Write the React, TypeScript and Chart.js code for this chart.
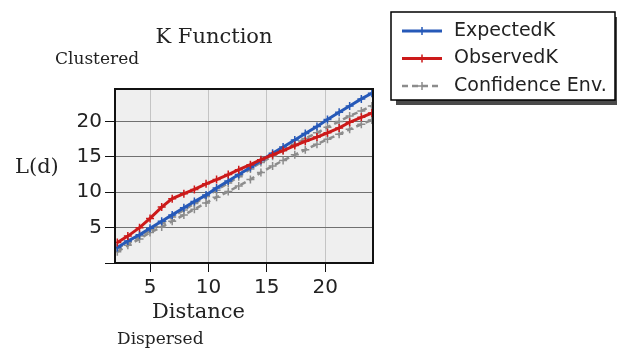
import React, { useEffect, useRef } from 'react';
import { Chart, registerables } from 'chart.js';

Chart.register(...registerables);

// ---- data ----
const DISTANCES = [2.2, 3.1, 4.1, 5.0, 6.0, 6.9, 7.9, 8.8, 9.8, 10.7, 11.7, 12.6, 13.6, 14.5, 15.5, 16.4, 17.4, 18.3, 19.3, 20.2, 21.2, 22.1, 23.1, 24.0];
const EXPECTED_K = [2.2, 3.1, 4.0, 4.9, 5.9, 6.8, 7.8, 8.7, 9.6, 10.6, 11.6, 12.5, 13.5, 14.5, 15.5, 16.4, 17.4, 18.3, 19.3, 20.3, 21.3, 22.2, 23.2, 24.0];
const OBSERVED_K = [2.9, 3.8, 5.0, 6.3, 7.9, 9.1, 9.8, 10.4, 11.2, 11.8, 12.5, 13.2, 13.9, 14.6, 15.3, 15.9, 16.6, 17.2, 17.8, 18.4, 19.1, 19.9, 20.6, 21.2];
const CONF_UPPER = [2.1, 2.9, 3.8, 4.7, 5.6, 6.5, 7.5, 8.4, 9.4, 10.3, 11.3, 12.2, 13.3, 14.2, 15.1, 15.9, 16.8, 17.6, 18.4, 19.2, 20.0, 20.8, 21.5, 22.2];
const CONF_LOWER = [1.6, 2.5, 3.4, 4.3, 5.1, 5.9, 6.8, 7.6, 8.5, 9.3, 10.1, 10.9, 11.8, 12.8, 13.7, 14.5, 15.3, 16.0, 16.8, 17.5, 18.2, 18.9, 19.6, 20.2];
const X_TICKS = [5, 10, 15, 20];
const Y_TICKS = [0, 5, 10, 15, 20];
const SERIES_LABELS = ['ExpectedK', 'ObservedK', 'Confidence Env.'];
const TITLE_TEXT = 'K Function';
const X_LABEL = 'Distance';
const Y_LABEL = 'L(d)';
const TOP_NOTE = 'Clustered';
const BOTTOM_NOTE = 'Dispersed';

const BLUE = '#2659b8';
const RED = '#cc1a1a';
const GRAY = '#8c8c8c';

const pts = (ys: number[]) => DISTANCES.map((d, i) => ({ x: d, y: ys[i] }));

const SERIF = '"DejaVu Serif", serif';
const SANS = '"DejaVu Sans", sans-serif';

const decorPlugin = {
  id: 'decor',
  beforeDraw(chart: any) {
    const { ctx, chartArea: a } = chart;
    ctx.save();
    ctx.fillStyle = '#ffffff';
    ctx.fillRect(0, 0, chart.width, chart.height);
    ctx.fillStyle = '#efefef';
    ctx.fillRect(a.left, a.top, a.right - a.left, a.bottom - a.top);
    ctx.restore();
  },
  afterDraw(chart: any) {
    const { ctx, chartArea: a } = chart;
    ctx.save();
    // frame
    ctx.strokeStyle = '#111';
    ctx.lineWidth = 2;
    ctx.strokeRect(a.left, a.top, a.right - a.left, a.bottom - a.top);

    // texts
    ctx.fillStyle = '#222';
    ctx.textBaseline = 'middle';
    ctx.textAlign = 'center';
    ctx.font = `21px ${SERIF}`;
    ctx.fillText(TITLE_TEXT, 214, 38);
    ctx.textAlign = 'left';
    ctx.font = `17px ${SERIF}`;
    ctx.fillText(TOP_NOTE, 55, 60);
    ctx.font = `21px ${SERIF}`;
    ctx.fillText(Y_LABEL, 15, 168);
    ctx.fillText(X_LABEL, 152, 313);
    ctx.font = `17px ${SERIF}`;
    ctx.fillText(BOTTOM_NOTE, 117, 340);

    // legend
    const L = 391, T = 12, R = 615, B = 100;
    ctx.fillStyle = '#4a4a4a';
    ctx.fillRect(L + 5, T + 5, R - L, B - T);
    ctx.fillStyle = '#ffffff';
    ctx.fillRect(L, T, R - L, B - T);
    ctx.strokeStyle = '#000';
    ctx.lineWidth = 1.5;
    ctx.strokeRect(L, T, R - L, B - T);

    const entries = [
      chart.data.datasets[1],
      chart.data.datasets[0],
      chart.data.datasets[2],
    ];
    entries.forEach((ds: any, i: number) => {
      const y = 31 + i * 27.5;
      ctx.save();
      ctx.strokeStyle = ds.borderColor;
      ctx.lineWidth = ds.borderWidth;
      ctx.setLineDash(ds.borderDash || []);
      ctx.beginPath();
      ctx.moveTo(402, y);
      ctx.lineTo(442, y);
      ctx.stroke();
      ctx.setLineDash([]);
      ctx.lineWidth = 1.5;
      ctx.beginPath();
      ctx.moveTo(422, y - 4);
      ctx.lineTo(422, y + 4);
      ctx.moveTo(418, y);
      ctx.lineTo(426, y);
      ctx.stroke();
      ctx.restore();
      ctx.fillStyle = '#222';
      ctx.font = `19px ${SANS}`;
      ctx.textAlign = 'left';
      ctx.textBaseline = 'middle';
      ctx.fillText(ds.legendLabel, 454, y);
    });
    ctx.restore();
  },
};

export default function App() {
  const ref = useRef<HTMLCanvasElement | null>(null);
  useEffect(() => {
    document.body.style.margin = '0';
    document.body.style.overflow = 'hidden';
    const canvas = ref.current!;
    const common = { pointStyle: 'cross', pointRadius: 4, pointHoverRadius: 4, fill: false, tension: 0 };
    const chart = new Chart(canvas, {
      type: 'line',
      data: {
        datasets: [
          { ...common, label: SERIES_LABELS[1], legendLabel: SERIES_LABELS[1], data: pts(OBSERVED_K), borderColor: RED, pointBorderColor: RED, backgroundColor: RED, borderWidth: 3, pointBorderWidth: 1.5 },
          { ...common, label: SERIES_LABELS[0], legendLabel: SERIES_LABELS[0], data: pts(EXPECTED_K), borderColor: BLUE, pointBorderColor: BLUE, backgroundColor: BLUE, borderWidth: 3, pointBorderWidth: 1.5 },
          { ...common, label: SERIES_LABELS[2], legendLabel: SERIES_LABELS[2], data: pts(CONF_UPPER), borderColor: GRAY, pointBorderColor: GRAY, backgroundColor: GRAY, borderWidth: 2.5, borderDash: [6, 4], pointBorderWidth: 1.5 },
          { ...common, label: SERIES_LABELS[2], legendLabel: SERIES_LABELS[2], data: pts(CONF_LOWER), borderColor: GRAY, pointBorderColor: GRAY, backgroundColor: GRAY, borderWidth: 2.5, borderDash: [6, 4], pointBorderWidth: 1.5 },
        ] as any,
      },
      options: {
        responsive: false,
        animation: false,
        devicePixelRatio: 1,
        layout: { padding: { left: 0, right: 244, top: 89, bottom: 0 } },
        plugins: { legend: { display: false }, title: { display: false }, tooltip: { enabled: false } },
        scales: {
          x: {
            type: 'linear',
            min: 2.0,
            max: 24.1,
            afterFit: (s: any) => { s.height = 88; },
            afterBuildTicks: (s: any) => { s.ticks = X_TICKS.map((v) => ({ value: v })); },
            border: { display: false },
            grid: { color: '#c4c4c4', borderDash: [1, 2], tickColor: '#111', tickLength: 9, tickBorderDash: [], lineWidth: 1 },
            ticks: { font: { family: SANS, size: 20 }, color: '#222', padding: 4, maxRotation: 0, autoSkip: false },
          },
          y: {
            type: 'linear',
            min: 0,
            max: 24.6,
            afterFit: (s: any) => { s.width = 115; },
            afterBuildTicks: (s: any) => { s.ticks = Y_TICKS.map((v) => ({ value: v })); },
            border: { display: false },
            grid: { color: '#707070', borderDash: [2, 3], tickColor: '#111', tickLength: 10, tickBorderDash: [], lineWidth: 1 },
            ticks: { font: { family: SANS, size: 20 }, color: '#222', padding: 3, autoSkip: false, callback: (v: any) => (v === 0 ? '' : String(v)) },
          },
        },
      } as any,
      plugins: [decorPlugin],
    });
    return () => chart.destroy();
  }, []);
  return (
    <div style={{ width: 617, height: 351 }}>
      <canvas ref={ref} width={617} height={351} style={{ display: 'block' }} />
    </div>
  );
}
